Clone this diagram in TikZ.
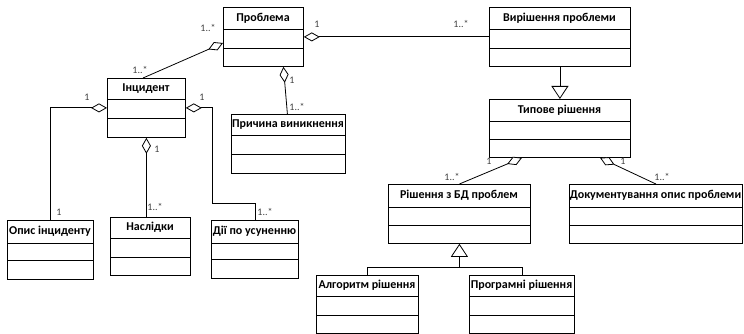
\documentclass[tikz,border=0pt]{standalone}
\usepackage{fontspec}
\setmainfont{Carlito}
\usetikzlibrary{arrows.meta,calc}
\tikzset{
  cls/.style={draw, line width=0.8pt, inner sep=0pt},
  divl/.style={line width=0.8pt},
  title/.style={font=\bfseries\fontsize{12}{14}\selectfont, inner sep=0pt},
  mult/.style={font=\fontsize{10}{12}\selectfont, text=black!75, inner sep=0pt},
  agg/.style={draw, line width=0.8pt, {Diamond[fill=white,length=16pt,width=9pt]}-},
  gen/.style={draw, line width=0.8pt, -{Triangle[open,fill=white,length=13pt,width=17pt]}},
  conn/.style={draw, line width=0.8pt}
}
\newcommand\umlclass[8]{%
  \pgfmathsetmacro\cw{#4-#2}\pgfmathsetmacro\ch{#5-#3}%
  \node[cls, minimum width=\cw pt, minimum height=\ch pt, anchor=north west] (#1) at (#2,#3) {};
  \draw[divl] (#2,#6) -- (#4,#6);
  \draw[divl] (#2,#7) -- (#4,#7);
  \node[title] at ({(#2+#4)/2},{(#3+#6)/2}) {#8};
}
\begin{document}
\begin{tikzpicture}[x=1pt,y=-1pt]
\useasboundingbox (0,0) rectangle (744,334);
\umlclass{prob}{223}{7}{303}{66}{29}{48}{Проблема}
\umlclass{vir}{489}{7}{630}{66}{29}{48}{Вирішення проблеми}
\umlclass{typ}{489}{99}{630}{157}{121}{139}{Типове рішення}
\umlclass{inc}{107}{78}{185}{137}{99}{118}{Інцидент}
\umlclass{prich}{231}{114}{345}{173}{135}{154}{Причина виникнення}
\umlclass{opis}{7}{220}{93}{279}{243}{260}{Опис інциденту}
\umlclass{nasl}{110}{217}{190}{275}{238}{257}{Наслідки}
\umlclass{dii}{211}{220}{298}{278}{243}{259}{Дії по усуненню}
\umlclass{rish}{388}{184}{530}{243}{207}{225}{Рішення з БД проблем}
\umlclass{doc}{569}{184}{742}{243}{207}{225}{Документування опис проблеми}
\umlclass{alg}{316}{275}{418}{333}{296}{315}{Алгоритм рішення}
\umlclass{prog}{469}{275}{574}{333}{296}{315}{Програмні рішення}

\draw[agg] (prob.east) -- (vir.west);
\draw[agg] ($(prob.north west)+(0,36)$) -- ($(inc.north west)+(36,0)$);
\draw[agg] ($(prob.south)+(20,0)$) -- ($(prich.north)+(-1,0)$);
\draw[agg] (inc.west) -| (opis.north);
\draw[agg] (inc.east) -- ++(27,0) |- ($(dii.north)+(0,-17)$) -- (dii.north);
\draw[agg] (inc.south) -- (inc.south |- nasl.north);
\draw[gen] (vir.south) -- (typ.north);
\draw[agg] ($(typ.south west)+(33,0)$) -- (rish.north);
\draw[agg] ($(typ.south west)+(111,0)$) -- (doc.north);
\coordinate (j) at ($(rish.south)+(0,24)$);
\draw[gen] (j) -- (rish.south);
\draw[conn] (alg.north) |- (j) -| (prog.north);

\node[mult] at (317,24) {1};
\node[mult] at (461,24) {1..*};
\node[mult] at (208,28) {1..*};
\node[mult] at (140,70) {1..*};
\node[mult] at (292,80) {1};
\node[mult] at (297,107) {1..*};
\node[mult] at (87,97) {1};
\node[mult] at (59,212) {1};
\node[mult] at (157,149) {1};
\node[mult] at (155,207) {1..*};
\node[mult] at (202,97) {1};
\node[mult] at (265,212) {1..*};
\node[mult] at (489,161) {1};
\node[mult] at (452,177) {1..*};
\node[mult] at (623,161) {1};
\node[mult] at (662,177) {1..*};
\end{tikzpicture}
\end{document}
